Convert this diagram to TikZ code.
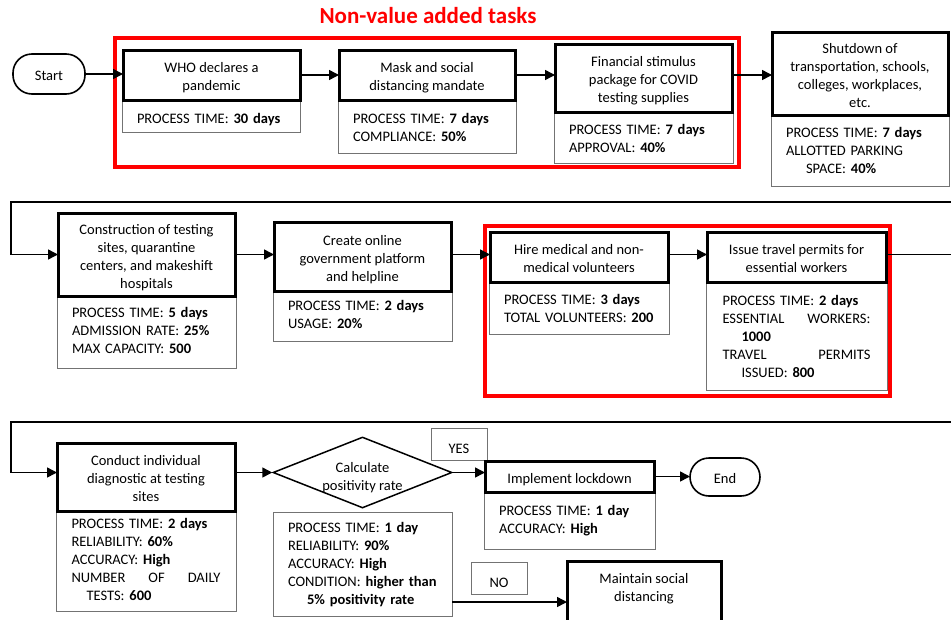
\documentclass[tikz,border=0pt]{standalone}
\usepackage{fontspec}
\setmainfont{Carlito}
\usetikzlibrary{arrows.meta,shapes.geometric,calc}

\newcommand\bodyfont{\fontsize{14.5pt}{18pt}\selectfont}
% \rbox{options}{name}{x1}{y1}{x2}{y2}{text}: box from top-left to bottom-right corner
\newcommand\rbox[7]{\node[#1, anchor=north west, outer sep=0pt,
  minimum width={((#5)-(#3))*1pt}, minimum height={((#6)-(#4))*1pt}] (#2) at (#3,#4) {#7};}

\tikzset{
  task/.style={draw, line width=3pt, align=center, inner sep=0pt, font=\bodyfont},
  info/.style={draw=black!55, line width=1pt, align=left, inner xsep=15pt, inner ysep=0pt,
    font=\bodyfont},
  tag/.style={draw=black!55, line width=1pt, align=center, inner sep=0pt, font=\bodyfont,
    text height=20pt, text depth=2pt},
  term/.style={draw, line width=1.6pt, rounded corners=19pt, inner sep=0pt, font=\bodyfont,
    text height=14pt, text depth=2pt},
  % text block extents: height above / depth below the reference baseline
  tb/.style 2 args={text height=#1pt, text depth=#2pt},
  frame/.style={draw=red, line width=4pt, inner sep=0pt},
  flow/.style={line width=1.5pt, -{Triangle[length=10pt,width=10pt]}},
  plain/.style={line width=1.5pt},
}

\begin{document}
\begin{tikzpicture}[x=1pt, y=-1pt]
\clip (0,0) rectangle (951,619);
\fill[white] (0,0) rectangle (951,619);

% ---------- first row ----------
\node[anchor=base, text=red, font=\fontsize{23pt}{27pt}\selectfont\bfseries] (nvatitle) at (428,23) {Non-value added tasks};
\rbox{frame}{nvaA}{115}{38}{739}{167}{}

\rbox{term}{start}{13}{54}{85}{94}{Start}

\rbox{info, text width=148pt, tb={17}{3}}{whoinfo}{122}{100}{300}{132}{PROCESS TIME: \textbf{30 days}}
\rbox{task, tb={33}{2}}{who}{123}{50}{300}{100}{WHO declares a\\pandemic}

\rbox{info, text width=148pt, tb={14}{21}}{maskinfo}{338}{100}{516}{153}{PROCESS TIME: \textbf{7 days}\\COMPLIANCE: \textbf{50\%}}
\rbox{task, tb={33}{2}}{mask}{339}{50}{515}{100}{Mask and social\\distancing mandate}

\rbox{info, text width=149pt, tb={14}{21}}{fininfo}{554}{112}{733}{163}{PROCESS TIME: \textbf{7 days}\\APPROVAL: \textbf{40\%}}
\rbox{task, tb={51}{2}}{fin}{555}{44}{732}{112}{Financial stimulus\\package for COVID\\testing supplies}

\rbox{info, text width=148pt, tb={12}{39}}{shutinfo}{771}{115}{949}{186}{PROCESS TIME: \textbf{7 days}\\ALLOTTED PARKING\\\hspace*{20pt}SPACE: \textbf{40\%}}
\rbox{task, tb={69}{2}}{shut}{772}{32}{948}{115}{Shutdown of\\transportation, schools,\\colleges, workplaces,\\etc.}

\draw[flow] (start.east) -- (start.east -| who.west);
\draw[flow] (who.east) -- (who.east -| mask.west);
\draw[flow] (mask.east) -- (mask.east -| fin.west);
\draw[flow] (fin.east |- mask.east) -- (mask.east -| shut.west);

% ---------- second row ----------
\coordinate (wrapA) at (951,202);
\coordinate (bendA) at (11,202);
\coordinate (exitB) at (951,254);

\rbox{frame}{nvaB}{485}{226}{890}{396}{}

\rbox{info, text width=149pt, tb={10.5}{39}}{coninfo}{57}{296}{236}{368}{PROCESS TIME: \textbf{5 days}\\ADMISSION RATE: \textbf{25\%}\\MAX CAPACITY: \textbf{500}}
\rbox{task, tb={69}{2}}{con}{58}{213}{235}{296}{Construction of testing\\sites, quarantine\\centers, and makeshift\\hospitals}

\rbox{info, text width=149pt, tb={10.5}{21}}{crinfo}{273}{291}{452}{341}{PROCESS TIME: \textbf{2 days}\\USAGE: \textbf{20\%}}
\rbox{task, tb={51}{2}}{create}{274}{222}{451}{291}{Create online\\government platform\\and helpline}

\rbox{info, text width=150pt, tb={14}{21}}{hireinfo}{489}{282}{669}{334}{PROCESS TIME: \textbf{3 days}\\TOTAL VOLUNTEERS: \textbf{200}}
\rbox{task, tb={33}{2}}{hire}{490}{232}{668}{282}{Hire medical and non-\\medical volunteers}

\rbox{info, text width=148pt, tb={14}{75}}{issinfo}{706}{282}{887}{390}{PROCESS TIME: \textbf{2 days}\\ESSENTIAL\hfill WORKERS:\\\hspace*{19pt}\textbf{1000}\\TRAVEL\hfill PERMITS\\\hspace*{19pt}ISSUED: \textbf{800}}
\rbox{task, tb={33}{2}}{issue}{707}{232}{886}{282}{Issue travel permits for\\essential workers}

\draw[flow] (wrapA) -- (bendA) |- (con.west);
\draw[flow] (con.east) -- (con.east -| create.west);
\draw[flow] (create.east |- con.east) -- (con.east -| hire.west);
\draw[flow] (hire.east |- con.east) -- (con.east -| issue.west);
\draw[plain] (issue.east |- con.east) -- (con.east -| exitB);

% ---------- third row ----------
\coordinate (wrapB) at (951,422);
\coordinate (bendB) at (11,422);

\rbox{info, text width=149pt, tb={10.5}{75}}{condinfo}{56}{511}{236}{611}{PROCESS TIME: \textbf{2 days}\\RELIABILITY: \textbf{60\%}\\ACCURACY: \textbf{High}\\NUMBER\hfill OF\hfill DAILY\\\hspace*{15pt}TESTS: \textbf{600}}
\rbox{task, tb={51}{2}}{cond}{57}{443}{235}{511}{Conduct individual\\diagnostic at testing\\sites}

\node[diamond, draw, line width=1.5pt, minimum width=179pt, minimum height=71pt, inner sep=0pt] (rate) at (362.5,472.5) {};
\node[align=center, font=\bodyfont, inner sep=0pt, tb={33}{2}] (ratetext) at ([yshift=-2.5pt]rate.center) {Calculate\\positivity rate};
\rbox{info, text width=149pt, tb={12}{75}}{rateinfo}{273}{512}{452}{616}{PROCESS TIME: \textbf{1 day}\\RELIABILITY: \textbf{90\%}\\ACCURACY: \textbf{High}\\CONDITION: \textbf{higher than}\\\hspace*{19pt}\textbf{5\% positivity rate}}

\rbox{tag}{yes}{431}{428}{487}{460}{YES}
\rbox{tag}{no}{471}{562}{527}{594}{NO}

\rbox{info, text width=141pt, tb={10.5}{21}}{implinfo}{484}{492}{655}{549}{PROCESS TIME: \textbf{1 day}\\ACCURACY: \textbf{High}}
\rbox{task, tb={15}{2}}{impl}{485}{461}{654}{492}{Implement lockdown}

\rbox{term}{endn}{690}{458}{760}{496}{End}

\rbox{task, tb={33}{17}}{maint}{567}{561}{721}{625}{Maintain social\\distancing}

\coordinate (noexit) at ($(rateinfo.south east)+(0,-14)$);
\draw[flow] (wrapB) -- (bendB) |- (cond.west |- rate.west);
\draw[flow] (cond.east |- rate.west) -- (rate.west);
\draw[flow] (rate.east) -- (rate.east -| impl.west);
\draw[flow] (impl.east) -- (impl.east -| endn.west);
\draw[flow] (noexit) -- (noexit -| maint.west);
\end{tikzpicture}
\end{document}
